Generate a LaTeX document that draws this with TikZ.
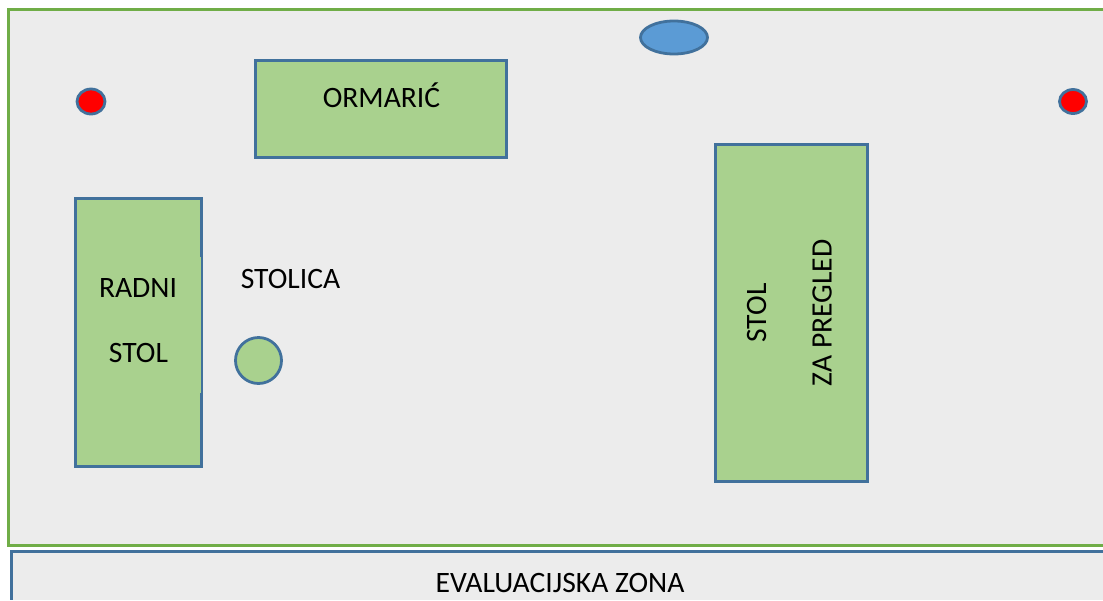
\documentclass[tikz,border=0pt]{standalone}
\usepackage{fontspec}
\setmainfont{Carlito}
\usetikzlibrary{shapes.geometric}
\definecolor{framegreen}{HTML}{70AD47}
\definecolor{edgeblue}{HTML}{41719C}
\definecolor{floorgrey}{HTML}{ECECEC}
\definecolor{furngreen}{HTML}{A9D18E}
\definecolor{lampblue}{HTML}{5B9BD5}
\tikzset{
  furn/.style={draw=edgeblue,fill=furngreen,line width=2.8pt,inner sep=0pt},
  furnbox/.style={furn,rectangle},
  seat/.style={furn,circle},
  spot/.style={draw=edgeblue,line width=2.8pt,ellipse,inner sep=0pt},
  lbl/.style={font=\fontsize{29.6}{34}\selectfont,text=black,inner sep=0pt,anchor=center},
}
\begin{document}
\begin{tikzpicture}[x=1pt,y=-1pt]
\useasboundingbox (0,0) rectangle (1103,600);
\clip (0,0) rectangle (1103,600);
\fill[white] (0,0) rectangle (1103,600);
\fill[floorgrey] (8.5,9) rectangle (1103,545);
\fill[floorgrey] (11,551) rectangle (1103,600);
\draw[framegreen,line width=3pt] (1103,9) -- (8.5,9) -- (8.5,545) -- (1103,545);
\draw[edgeblue,line width=3pt] (1103,551) -- (11.5,551) -- (11.5,600);
\node[furnbox,minimum width=251pt,minimum height=97pt] (ormaric) at (381,109) {};
\node[furnbox,minimum width=126pt,minimum height=268pt] (radni) at (138.5,332.5) {};
\draw[furngreen,line width=0.8pt] (200.5,257) -- (200.5,393);
\node[furnbox,minimum width=152pt,minimum height=337pt] (pregled) at (791.5,313) {};
\node[seat,minimum size=46pt] (stolica) at (258.5,360.5) {};
\node[spot,fill=lampblue,minimum width=67pt,minimum height=33pt] (lamp) at (674,37.5) {};
\node[spot,fill=red,minimum width=28pt,minimum height=25pt] (redl) at (91,101.5) {};
\node[spot,fill=red,minimum width=27pt,minimum height=24pt] (redr) at (1073,101.5) {};
\node[lbl] (tormaric) at (381.5,95) {ORMARIĆ};
\node[lbl] (tradni) at (138,288) {RADNI};
\node[lbl] (tstol) at (138.5,353) {STOL};
\node[lbl] (tstolica) at (290.5,279) {STOLICA};
\node[lbl,rotate=90] (tstolb) at (756.5,313) {STOL};
\node[lbl,rotate=90] (tza) at (822,313) {ZA PREGLED};
\node[lbl] (teval) at (560,583) {EVALUACIJSKA ZONA};
\end{tikzpicture}
\end{document}
